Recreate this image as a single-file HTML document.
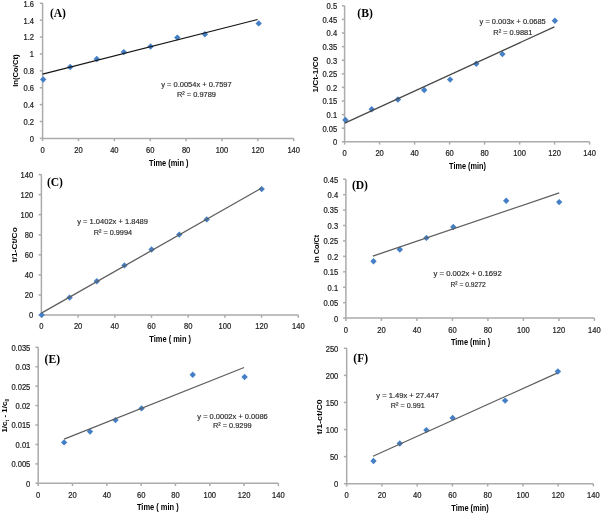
<!DOCTYPE html><html><head><meta charset="utf-8"><style>html,body{margin:0;padding:0;background:#fff;}svg{display:block;}</style></head><body>
<svg width="602" height="513" viewBox="0 0 602 513">
<defs><filter id="bl" x="0" y="0" width="100%" height="100%" filterUnits="userSpaceOnUse"><feGaussianBlur stdDeviation="0.28"/></filter></defs><rect width="602" height="513" fill="#fff"/><g filter="url(#bl)"><rect width="602" height="513" fill="#fff"/>
<g font-family='"Liberation Sans", sans-serif'><path d="M42.60,3.30 V138.40 H293.70" fill="none" stroke="#ababab" stroke-width="1.5"/><line x1="39.80" y1="138.40" x2="42.60" y2="138.40" stroke="#ababab" stroke-width="1.5"/><text transform="translate(34.00,141.80) scale(0.9,1)" text-anchor="end" font-size="8.4" fill="#1e1e1e" stroke="#1e1e1e" stroke-width="0.22">0</text><line x1="39.80" y1="121.51" x2="42.60" y2="121.51" stroke="#ababab" stroke-width="1.5"/><text transform="translate(34.00,124.91) scale(0.9,1)" text-anchor="end" font-size="8.4" fill="#1e1e1e" stroke="#1e1e1e" stroke-width="0.22">0.2</text><line x1="39.80" y1="104.62" x2="42.60" y2="104.62" stroke="#ababab" stroke-width="1.5"/><text transform="translate(34.00,108.03) scale(0.9,1)" text-anchor="end" font-size="8.4" fill="#1e1e1e" stroke="#1e1e1e" stroke-width="0.22">0.4</text><line x1="39.80" y1="87.74" x2="42.60" y2="87.74" stroke="#ababab" stroke-width="1.5"/><text transform="translate(34.00,91.14) scale(0.9,1)" text-anchor="end" font-size="8.4" fill="#1e1e1e" stroke="#1e1e1e" stroke-width="0.22">0.6</text><line x1="39.80" y1="70.85" x2="42.60" y2="70.85" stroke="#ababab" stroke-width="1.5"/><text transform="translate(34.00,74.25) scale(0.9,1)" text-anchor="end" font-size="8.4" fill="#1e1e1e" stroke="#1e1e1e" stroke-width="0.22">0.8</text><line x1="39.80" y1="53.96" x2="42.60" y2="53.96" stroke="#ababab" stroke-width="1.5"/><text transform="translate(34.00,57.36) scale(0.9,1)" text-anchor="end" font-size="8.4" fill="#1e1e1e" stroke="#1e1e1e" stroke-width="0.22">1</text><line x1="39.80" y1="37.08" x2="42.60" y2="37.08" stroke="#ababab" stroke-width="1.5"/><text transform="translate(34.00,40.48) scale(0.9,1)" text-anchor="end" font-size="8.4" fill="#1e1e1e" stroke="#1e1e1e" stroke-width="0.22">1.2</text><line x1="39.80" y1="20.19" x2="42.60" y2="20.19" stroke="#ababab" stroke-width="1.5"/><text transform="translate(34.00,23.59) scale(0.9,1)" text-anchor="end" font-size="8.4" fill="#1e1e1e" stroke="#1e1e1e" stroke-width="0.22">1.4</text><line x1="39.80" y1="3.30" x2="42.60" y2="3.30" stroke="#ababab" stroke-width="1.5"/><text transform="translate(34.00,6.70) scale(0.9,1)" text-anchor="end" font-size="8.4" fill="#1e1e1e" stroke="#1e1e1e" stroke-width="0.22">1.6</text><line x1="42.60" y1="138.40" x2="42.60" y2="141.20" stroke="#ababab" stroke-width="1.5"/><text transform="translate(42.60,153.20) scale(0.9,1)" text-anchor="middle" font-size="8.4" fill="#1e1e1e" stroke="#1e1e1e" stroke-width="0.22">0</text><line x1="78.47" y1="138.40" x2="78.47" y2="141.20" stroke="#ababab" stroke-width="1.5"/><text transform="translate(78.47,153.20) scale(0.9,1)" text-anchor="middle" font-size="8.4" fill="#1e1e1e" stroke="#1e1e1e" stroke-width="0.22">20</text><line x1="114.34" y1="138.40" x2="114.34" y2="141.20" stroke="#ababab" stroke-width="1.5"/><text transform="translate(114.34,153.20) scale(0.9,1)" text-anchor="middle" font-size="8.4" fill="#1e1e1e" stroke="#1e1e1e" stroke-width="0.22">40</text><line x1="150.21" y1="138.40" x2="150.21" y2="141.20" stroke="#ababab" stroke-width="1.5"/><text transform="translate(150.21,153.20) scale(0.9,1)" text-anchor="middle" font-size="8.4" fill="#1e1e1e" stroke="#1e1e1e" stroke-width="0.22">60</text><line x1="186.09" y1="138.40" x2="186.09" y2="141.20" stroke="#ababab" stroke-width="1.5"/><text transform="translate(186.09,153.20) scale(0.9,1)" text-anchor="middle" font-size="8.4" fill="#1e1e1e" stroke="#1e1e1e" stroke-width="0.22">80</text><line x1="221.96" y1="138.40" x2="221.96" y2="141.20" stroke="#ababab" stroke-width="1.5"/><text transform="translate(221.96,153.20) scale(0.9,1)" text-anchor="middle" font-size="8.4" fill="#1e1e1e" stroke="#1e1e1e" stroke-width="0.22">100</text><line x1="257.83" y1="138.40" x2="257.83" y2="141.20" stroke="#ababab" stroke-width="1.5"/><text transform="translate(257.83,153.20) scale(0.9,1)" text-anchor="middle" font-size="8.4" fill="#1e1e1e" stroke="#1e1e1e" stroke-width="0.22">120</text><line x1="293.70" y1="138.40" x2="293.70" y2="141.20" stroke="#ababab" stroke-width="1.5"/><text transform="translate(293.70,153.20) scale(0.9,1)" text-anchor="middle" font-size="8.4" fill="#1e1e1e" stroke="#1e1e1e" stroke-width="0.22">140</text><path d="M43.20,76.30 L46.40,79.50 L43.20,82.70 L40.00,79.50Z" fill="#4580c6"/><path d="M70.20,63.80 L73.40,67.00 L70.20,70.20 L67.00,67.00Z" fill="#4580c6"/><path d="M96.80,55.80 L100.00,59.00 L96.80,62.20 L93.60,59.00Z" fill="#4580c6"/><path d="M123.80,48.90 L127.00,52.10 L123.80,55.30 L120.60,52.10Z" fill="#4580c6"/><path d="M150.60,43.30 L153.80,46.50 L150.60,49.70 L147.40,46.50Z" fill="#4580c6"/><path d="M177.30,34.40 L180.50,37.60 L177.30,40.80 L174.10,37.60Z" fill="#4580c6"/><path d="M204.90,31.00 L208.10,34.20 L204.90,37.40 L201.70,34.20Z" fill="#4580c6"/><path d="M258.70,20.20 L261.90,23.40 L258.70,26.60 L255.50,23.40Z" fill="#4580c6"/><line x1="42.60" y1="74.10" x2="257.60" y2="19.50" stroke="#151515" stroke-width="1.1"/><text x="161.20" y="87.00" font-size="8" fill="#2a2a2a" stroke="#2a2a2a" stroke-width="0.18" textLength="70.50" lengthAdjust="spacingAndGlyphs">y = 0.0054x + 0.7597</text><text x="176.90" y="97.00" font-size="8" fill="#2a2a2a" stroke="#2a2a2a" stroke-width="0.18" textLength="39.10" lengthAdjust="spacingAndGlyphs">R² = 0.9789</text><text x="49.90" y="16.60" font-family='"Liberation Serif", serif' font-weight="bold" font-size="11.6" fill="#000">(A)</text><text transform="translate(15.60,70.60) rotate(-90)" x="-16.25" y="2.8" font-size="8" font-weight="bold" fill="#000" textLength="32.50" lengthAdjust="spacingAndGlyphs">ln(Co/Ct)</text><text x="149.00" y="166.00" font-size="8.3" font-weight="bold" fill="#000" textLength="39.50" lengthAdjust="spacingAndGlyphs">Time (min )</text></g>
<g font-family='"Liberation Sans", sans-serif'><path d="M344.60,5.85 V141.80 H589.60" fill="none" stroke="#ababab" stroke-width="1.5"/><line x1="341.80" y1="141.80" x2="344.60" y2="141.80" stroke="#ababab" stroke-width="1.5"/><text transform="translate(337.10,145.20) scale(0.9,1)" text-anchor="end" font-size="8.4" fill="#1e1e1e" stroke="#1e1e1e" stroke-width="0.22">0</text><line x1="341.80" y1="128.21" x2="344.60" y2="128.21" stroke="#ababab" stroke-width="1.5"/><text transform="translate(337.10,131.61) scale(0.9,1)" text-anchor="end" font-size="8.4" fill="#1e1e1e" stroke="#1e1e1e" stroke-width="0.22">0.05</text><line x1="341.80" y1="114.61" x2="344.60" y2="114.61" stroke="#ababab" stroke-width="1.5"/><text transform="translate(337.10,118.01) scale(0.9,1)" text-anchor="end" font-size="8.4" fill="#1e1e1e" stroke="#1e1e1e" stroke-width="0.22">0.1</text><line x1="341.80" y1="101.02" x2="344.60" y2="101.02" stroke="#ababab" stroke-width="1.5"/><text transform="translate(337.10,104.42) scale(0.9,1)" text-anchor="end" font-size="8.4" fill="#1e1e1e" stroke="#1e1e1e" stroke-width="0.22">0.15</text><line x1="341.80" y1="87.42" x2="344.60" y2="87.42" stroke="#ababab" stroke-width="1.5"/><text transform="translate(337.10,90.82) scale(0.9,1)" text-anchor="end" font-size="8.4" fill="#1e1e1e" stroke="#1e1e1e" stroke-width="0.22">0.2</text><line x1="341.80" y1="73.83" x2="344.60" y2="73.83" stroke="#ababab" stroke-width="1.5"/><text transform="translate(337.10,77.23) scale(0.9,1)" text-anchor="end" font-size="8.4" fill="#1e1e1e" stroke="#1e1e1e" stroke-width="0.22">0.25</text><line x1="341.80" y1="60.23" x2="344.60" y2="60.23" stroke="#ababab" stroke-width="1.5"/><text transform="translate(337.10,63.63) scale(0.9,1)" text-anchor="end" font-size="8.4" fill="#1e1e1e" stroke="#1e1e1e" stroke-width="0.22">0.3</text><line x1="341.80" y1="46.63" x2="344.60" y2="46.63" stroke="#ababab" stroke-width="1.5"/><text transform="translate(337.10,50.03) scale(0.9,1)" text-anchor="end" font-size="8.4" fill="#1e1e1e" stroke="#1e1e1e" stroke-width="0.22">0.35</text><line x1="341.80" y1="33.04" x2="344.60" y2="33.04" stroke="#ababab" stroke-width="1.5"/><text transform="translate(337.10,36.44) scale(0.9,1)" text-anchor="end" font-size="8.4" fill="#1e1e1e" stroke="#1e1e1e" stroke-width="0.22">0.4</text><line x1="341.80" y1="19.44" x2="344.60" y2="19.44" stroke="#ababab" stroke-width="1.5"/><text transform="translate(337.10,22.84) scale(0.9,1)" text-anchor="end" font-size="8.4" fill="#1e1e1e" stroke="#1e1e1e" stroke-width="0.22">0.45</text><line x1="341.80" y1="5.85" x2="344.60" y2="5.85" stroke="#ababab" stroke-width="1.5"/><text transform="translate(337.10,9.25) scale(0.9,1)" text-anchor="end" font-size="8.4" fill="#1e1e1e" stroke="#1e1e1e" stroke-width="0.22">0.5</text><line x1="344.60" y1="141.80" x2="344.60" y2="144.60" stroke="#ababab" stroke-width="1.5"/><text transform="translate(344.60,156.30) scale(0.9,1)" text-anchor="middle" font-size="8.4" fill="#1e1e1e" stroke="#1e1e1e" stroke-width="0.22">0</text><line x1="379.60" y1="141.80" x2="379.60" y2="144.60" stroke="#ababab" stroke-width="1.5"/><text transform="translate(379.60,156.30) scale(0.9,1)" text-anchor="middle" font-size="8.4" fill="#1e1e1e" stroke="#1e1e1e" stroke-width="0.22">20</text><line x1="414.60" y1="141.80" x2="414.60" y2="144.60" stroke="#ababab" stroke-width="1.5"/><text transform="translate(414.60,156.30) scale(0.9,1)" text-anchor="middle" font-size="8.4" fill="#1e1e1e" stroke="#1e1e1e" stroke-width="0.22">40</text><line x1="449.60" y1="141.80" x2="449.60" y2="144.60" stroke="#ababab" stroke-width="1.5"/><text transform="translate(449.60,156.30) scale(0.9,1)" text-anchor="middle" font-size="8.4" fill="#1e1e1e" stroke="#1e1e1e" stroke-width="0.22">60</text><line x1="484.60" y1="141.80" x2="484.60" y2="144.60" stroke="#ababab" stroke-width="1.5"/><text transform="translate(484.60,156.30) scale(0.9,1)" text-anchor="middle" font-size="8.4" fill="#1e1e1e" stroke="#1e1e1e" stroke-width="0.22">80</text><line x1="519.60" y1="141.80" x2="519.60" y2="144.60" stroke="#ababab" stroke-width="1.5"/><text transform="translate(519.60,156.30) scale(0.9,1)" text-anchor="middle" font-size="8.4" fill="#1e1e1e" stroke="#1e1e1e" stroke-width="0.22">100</text><line x1="554.60" y1="141.80" x2="554.60" y2="144.60" stroke="#ababab" stroke-width="1.5"/><text transform="translate(554.60,156.30) scale(0.9,1)" text-anchor="middle" font-size="8.4" fill="#1e1e1e" stroke="#1e1e1e" stroke-width="0.22">120</text><line x1="589.60" y1="141.80" x2="589.60" y2="144.60" stroke="#ababab" stroke-width="1.5"/><text transform="translate(589.60,156.30) scale(0.9,1)" text-anchor="middle" font-size="8.4" fill="#1e1e1e" stroke="#1e1e1e" stroke-width="0.22">140</text><path d="M345.40,116.80 L348.60,120.00 L345.40,123.20 L342.20,120.00Z" fill="#4580c6"/><path d="M371.70,106.00 L374.90,109.20 L371.70,112.40 L368.50,109.20Z" fill="#4580c6"/><path d="M397.90,96.30 L401.10,99.50 L397.90,102.70 L394.70,99.50Z" fill="#4580c6"/><path d="M424.20,86.80 L427.40,90.00 L424.20,93.20 L421.00,90.00Z" fill="#4580c6"/><path d="M450.10,76.40 L453.30,79.60 L450.10,82.80 L446.90,79.60Z" fill="#4580c6"/><path d="M476.30,60.60 L479.50,63.80 L476.30,67.00 L473.10,63.80Z" fill="#4580c6"/><path d="M502.40,50.90 L505.60,54.10 L502.40,57.30 L499.20,54.10Z" fill="#4580c6"/><path d="M554.90,17.50 L558.10,20.70 L554.90,23.90 L551.70,20.70Z" fill="#4580c6"/><line x1="344.75" y1="123.10" x2="554.40" y2="26.90" stroke="#484848" stroke-width="1.25"/><text x="479.60" y="24.30" font-size="8" fill="#2a2a2a" stroke="#2a2a2a" stroke-width="0.18" textLength="66.20" lengthAdjust="spacingAndGlyphs">y = 0.003x + 0.0685</text><text x="493.30" y="34.55" font-size="8" fill="#2a2a2a" stroke="#2a2a2a" stroke-width="0.18" textLength="39.00" lengthAdjust="spacingAndGlyphs">R² = 0.9881</text><text x="357.30" y="16.70" font-family='"Liberation Serif", serif' font-weight="bold" font-size="11.6" fill="#000">(B)</text><text transform="translate(315.60,74.60) rotate(-90)" x="-18.00" y="2.8" font-size="8" font-weight="bold" fill="#000" textLength="36.00" lengthAdjust="spacingAndGlyphs">1/Ct-1/C0</text><text x="449.10" y="168.80" font-size="8.3" font-weight="bold" fill="#000" textLength="36.80" lengthAdjust="spacingAndGlyphs">Time (min)</text></g>
<g font-family='"Liberation Sans", sans-serif'><path d="M41.40,174.60 V315.00 H298.30" fill="none" stroke="#ababab" stroke-width="1.5"/><line x1="38.60" y1="315.00" x2="41.40" y2="315.00" stroke="#ababab" stroke-width="1.5"/><text transform="translate(33.20,318.40) scale(0.9,1)" text-anchor="end" font-size="8.4" fill="#1e1e1e" stroke="#1e1e1e" stroke-width="0.22">0</text><line x1="38.60" y1="294.94" x2="41.40" y2="294.94" stroke="#ababab" stroke-width="1.5"/><text transform="translate(33.20,298.34) scale(0.9,1)" text-anchor="end" font-size="8.4" fill="#1e1e1e" stroke="#1e1e1e" stroke-width="0.22">20</text><line x1="38.60" y1="274.89" x2="41.40" y2="274.89" stroke="#ababab" stroke-width="1.5"/><text transform="translate(33.20,278.29) scale(0.9,1)" text-anchor="end" font-size="8.4" fill="#1e1e1e" stroke="#1e1e1e" stroke-width="0.22">40</text><line x1="38.60" y1="254.83" x2="41.40" y2="254.83" stroke="#ababab" stroke-width="1.5"/><text transform="translate(33.20,258.23) scale(0.9,1)" text-anchor="end" font-size="8.4" fill="#1e1e1e" stroke="#1e1e1e" stroke-width="0.22">60</text><line x1="38.60" y1="234.77" x2="41.40" y2="234.77" stroke="#ababab" stroke-width="1.5"/><text transform="translate(33.20,238.17) scale(0.9,1)" text-anchor="end" font-size="8.4" fill="#1e1e1e" stroke="#1e1e1e" stroke-width="0.22">80</text><line x1="38.60" y1="214.71" x2="41.40" y2="214.71" stroke="#ababab" stroke-width="1.5"/><text transform="translate(33.20,218.11) scale(0.9,1)" text-anchor="end" font-size="8.4" fill="#1e1e1e" stroke="#1e1e1e" stroke-width="0.22">100</text><line x1="38.60" y1="194.66" x2="41.40" y2="194.66" stroke="#ababab" stroke-width="1.5"/><text transform="translate(33.20,198.06) scale(0.9,1)" text-anchor="end" font-size="8.4" fill="#1e1e1e" stroke="#1e1e1e" stroke-width="0.22">120</text><line x1="38.60" y1="174.60" x2="41.40" y2="174.60" stroke="#ababab" stroke-width="1.5"/><text transform="translate(33.20,178.00) scale(0.9,1)" text-anchor="end" font-size="8.4" fill="#1e1e1e" stroke="#1e1e1e" stroke-width="0.22">140</text><line x1="41.40" y1="315.00" x2="41.40" y2="317.80" stroke="#ababab" stroke-width="1.5"/><text transform="translate(41.40,329.00) scale(0.9,1)" text-anchor="middle" font-size="8.4" fill="#1e1e1e" stroke="#1e1e1e" stroke-width="0.22">0</text><line x1="78.10" y1="315.00" x2="78.10" y2="317.80" stroke="#ababab" stroke-width="1.5"/><text transform="translate(78.10,329.00) scale(0.9,1)" text-anchor="middle" font-size="8.4" fill="#1e1e1e" stroke="#1e1e1e" stroke-width="0.22">20</text><line x1="114.80" y1="315.00" x2="114.80" y2="317.80" stroke="#ababab" stroke-width="1.5"/><text transform="translate(114.80,329.00) scale(0.9,1)" text-anchor="middle" font-size="8.4" fill="#1e1e1e" stroke="#1e1e1e" stroke-width="0.22">40</text><line x1="151.50" y1="315.00" x2="151.50" y2="317.80" stroke="#ababab" stroke-width="1.5"/><text transform="translate(151.50,329.00) scale(0.9,1)" text-anchor="middle" font-size="8.4" fill="#1e1e1e" stroke="#1e1e1e" stroke-width="0.22">60</text><line x1="188.20" y1="315.00" x2="188.20" y2="317.80" stroke="#ababab" stroke-width="1.5"/><text transform="translate(188.20,329.00) scale(0.9,1)" text-anchor="middle" font-size="8.4" fill="#1e1e1e" stroke="#1e1e1e" stroke-width="0.22">80</text><line x1="224.90" y1="315.00" x2="224.90" y2="317.80" stroke="#ababab" stroke-width="1.5"/><text transform="translate(224.90,329.00) scale(0.9,1)" text-anchor="middle" font-size="8.4" fill="#1e1e1e" stroke="#1e1e1e" stroke-width="0.22">100</text><line x1="261.60" y1="315.00" x2="261.60" y2="317.80" stroke="#ababab" stroke-width="1.5"/><text transform="translate(261.60,329.00) scale(0.9,1)" text-anchor="middle" font-size="8.4" fill="#1e1e1e" stroke="#1e1e1e" stroke-width="0.22">120</text><line x1="298.30" y1="315.00" x2="298.30" y2="317.80" stroke="#ababab" stroke-width="1.5"/><text transform="translate(298.30,329.00) scale(0.9,1)" text-anchor="middle" font-size="8.4" fill="#1e1e1e" stroke="#1e1e1e" stroke-width="0.22">140</text><path d="M41.70,311.70 L44.90,314.90 L41.70,318.10 L38.50,314.90Z" fill="#4580c6"/><path d="M69.60,294.40 L72.80,297.60 L69.60,300.80 L66.40,297.60Z" fill="#4580c6"/><path d="M96.80,278.00 L100.00,281.20 L96.80,284.40 L93.60,281.20Z" fill="#4580c6"/><path d="M124.40,262.20 L127.60,265.40 L124.40,268.60 L121.20,265.40Z" fill="#4580c6"/><path d="M151.60,246.30 L154.80,249.50 L151.60,252.70 L148.40,249.50Z" fill="#4580c6"/><path d="M179.30,231.40 L182.50,234.60 L179.30,237.80 L176.10,234.60Z" fill="#4580c6"/><path d="M206.70,216.20 L209.90,219.40 L206.70,222.60 L203.50,219.40Z" fill="#4580c6"/><path d="M261.70,185.90 L264.90,189.10 L261.70,192.30 L258.50,189.10Z" fill="#4580c6"/><line x1="41.40" y1="313.10" x2="261.70" y2="188.00" stroke="#5e5e5e" stroke-width="1.25"/><text x="77.20" y="224.10" font-size="8" fill="#2a2a2a" stroke="#2a2a2a" stroke-width="0.18" textLength="70.80" lengthAdjust="spacingAndGlyphs">y = 1.0402x + 1.8489</text><text x="93.70" y="234.60" font-size="8" fill="#2a2a2a" stroke="#2a2a2a" stroke-width="0.18" textLength="38.30" lengthAdjust="spacingAndGlyphs">R² = 0.9994</text><text x="46.90" y="186.40" font-family='"Liberation Serif", serif' font-weight="bold" font-size="11.6" fill="#000">(C)</text><text transform="translate(14.00,244.70) rotate(-90)" x="-17.50" y="2.8" font-size="8" font-weight="bold" fill="#000" textLength="35.00" lengthAdjust="spacingAndGlyphs">t/1-Ct/Co</text><text x="149.30" y="341.70" font-size="8.3" font-weight="bold" fill="#000" textLength="41.70" lengthAdjust="spacingAndGlyphs">Time ( min )</text></g>
<g font-family='"Liberation Sans", sans-serif'><path d="M345.90,179.20 V318.10 H594.40" fill="none" stroke="#ababab" stroke-width="1.5"/><line x1="343.10" y1="318.10" x2="345.90" y2="318.10" stroke="#ababab" stroke-width="1.5"/><text transform="translate(338.10,321.50) scale(0.9,1)" text-anchor="end" font-size="8.4" fill="#1e1e1e" stroke="#1e1e1e" stroke-width="0.22">0</text><line x1="343.10" y1="302.67" x2="345.90" y2="302.67" stroke="#ababab" stroke-width="1.5"/><text transform="translate(338.10,306.07) scale(0.9,1)" text-anchor="end" font-size="8.4" fill="#1e1e1e" stroke="#1e1e1e" stroke-width="0.22">0.05</text><line x1="343.10" y1="287.23" x2="345.90" y2="287.23" stroke="#ababab" stroke-width="1.5"/><text transform="translate(338.10,290.63) scale(0.9,1)" text-anchor="end" font-size="8.4" fill="#1e1e1e" stroke="#1e1e1e" stroke-width="0.22">0.1</text><line x1="343.10" y1="271.80" x2="345.90" y2="271.80" stroke="#ababab" stroke-width="1.5"/><text transform="translate(338.10,275.20) scale(0.9,1)" text-anchor="end" font-size="8.4" fill="#1e1e1e" stroke="#1e1e1e" stroke-width="0.22">0.15</text><line x1="343.10" y1="256.37" x2="345.90" y2="256.37" stroke="#ababab" stroke-width="1.5"/><text transform="translate(338.10,259.77) scale(0.9,1)" text-anchor="end" font-size="8.4" fill="#1e1e1e" stroke="#1e1e1e" stroke-width="0.22">0.2</text><line x1="343.10" y1="240.93" x2="345.90" y2="240.93" stroke="#ababab" stroke-width="1.5"/><text transform="translate(338.10,244.33) scale(0.9,1)" text-anchor="end" font-size="8.4" fill="#1e1e1e" stroke="#1e1e1e" stroke-width="0.22">0.25</text><line x1="343.10" y1="225.50" x2="345.90" y2="225.50" stroke="#ababab" stroke-width="1.5"/><text transform="translate(338.10,228.90) scale(0.9,1)" text-anchor="end" font-size="8.4" fill="#1e1e1e" stroke="#1e1e1e" stroke-width="0.22">0.3</text><line x1="343.10" y1="210.07" x2="345.90" y2="210.07" stroke="#ababab" stroke-width="1.5"/><text transform="translate(338.10,213.47) scale(0.9,1)" text-anchor="end" font-size="8.4" fill="#1e1e1e" stroke="#1e1e1e" stroke-width="0.22">0.35</text><line x1="343.10" y1="194.63" x2="345.90" y2="194.63" stroke="#ababab" stroke-width="1.5"/><text transform="translate(338.10,198.03) scale(0.9,1)" text-anchor="end" font-size="8.4" fill="#1e1e1e" stroke="#1e1e1e" stroke-width="0.22">0.4</text><line x1="343.10" y1="179.20" x2="345.90" y2="179.20" stroke="#ababab" stroke-width="1.5"/><text transform="translate(338.10,182.60) scale(0.9,1)" text-anchor="end" font-size="8.4" fill="#1e1e1e" stroke="#1e1e1e" stroke-width="0.22">0.45</text><line x1="345.90" y1="318.10" x2="345.90" y2="320.90" stroke="#ababab" stroke-width="1.5"/><text transform="translate(345.90,332.60) scale(0.9,1)" text-anchor="middle" font-size="8.4" fill="#1e1e1e" stroke="#1e1e1e" stroke-width="0.22">0</text><line x1="381.40" y1="318.10" x2="381.40" y2="320.90" stroke="#ababab" stroke-width="1.5"/><text transform="translate(381.40,332.60) scale(0.9,1)" text-anchor="middle" font-size="8.4" fill="#1e1e1e" stroke="#1e1e1e" stroke-width="0.22">20</text><line x1="416.90" y1="318.10" x2="416.90" y2="320.90" stroke="#ababab" stroke-width="1.5"/><text transform="translate(416.90,332.60) scale(0.9,1)" text-anchor="middle" font-size="8.4" fill="#1e1e1e" stroke="#1e1e1e" stroke-width="0.22">40</text><line x1="452.40" y1="318.10" x2="452.40" y2="320.90" stroke="#ababab" stroke-width="1.5"/><text transform="translate(452.40,332.60) scale(0.9,1)" text-anchor="middle" font-size="8.4" fill="#1e1e1e" stroke="#1e1e1e" stroke-width="0.22">60</text><line x1="487.90" y1="318.10" x2="487.90" y2="320.90" stroke="#ababab" stroke-width="1.5"/><text transform="translate(487.90,332.60) scale(0.9,1)" text-anchor="middle" font-size="8.4" fill="#1e1e1e" stroke="#1e1e1e" stroke-width="0.22">80</text><line x1="523.40" y1="318.10" x2="523.40" y2="320.90" stroke="#ababab" stroke-width="1.5"/><text transform="translate(523.40,332.60) scale(0.9,1)" text-anchor="middle" font-size="8.4" fill="#1e1e1e" stroke="#1e1e1e" stroke-width="0.22">100</text><line x1="558.90" y1="318.10" x2="558.90" y2="320.90" stroke="#ababab" stroke-width="1.5"/><text transform="translate(558.90,332.60) scale(0.9,1)" text-anchor="middle" font-size="8.4" fill="#1e1e1e" stroke="#1e1e1e" stroke-width="0.22">120</text><line x1="594.40" y1="318.10" x2="594.40" y2="320.90" stroke="#ababab" stroke-width="1.5"/><text transform="translate(594.40,332.60) scale(0.9,1)" text-anchor="middle" font-size="8.4" fill="#1e1e1e" stroke="#1e1e1e" stroke-width="0.22">140</text><path d="M373.50,258.00 L376.70,261.20 L373.50,264.40 L370.30,261.20Z" fill="#4580c6"/><path d="M399.80,246.30 L403.00,249.50 L399.80,252.70 L396.60,249.50Z" fill="#4580c6"/><path d="M426.40,234.70 L429.60,237.90 L426.40,241.10 L423.20,237.90Z" fill="#4580c6"/><path d="M453.30,223.80 L456.50,227.00 L453.30,230.20 L450.10,227.00Z" fill="#4580c6"/><path d="M506.20,197.50 L509.40,200.70 L506.20,203.90 L503.00,200.70Z" fill="#4580c6"/><path d="M559.20,198.90 L562.40,202.10 L559.20,205.30 L556.00,202.10Z" fill="#4580c6"/><line x1="372.80" y1="256.20" x2="559.20" y2="192.90" stroke="#5e5e5e" stroke-width="1.25"/><text x="433.50" y="276.20" font-size="8" fill="#2a2a2a" stroke="#2a2a2a" stroke-width="0.18" textLength="68.20" lengthAdjust="spacingAndGlyphs">y = 0.002x + 0.1692</text><text x="450.50" y="286.70" font-size="8" fill="#2a2a2a" stroke="#2a2a2a" stroke-width="0.18" textLength="35.10" lengthAdjust="spacingAndGlyphs">R² = 0.9272</text><text x="351.90" y="188.50" font-family='"Liberation Serif", serif' font-weight="bold" font-size="11.6" fill="#000">(D)</text><text transform="translate(316.40,248.70) rotate(-90)" x="-14.00" y="2.8" font-size="8" font-weight="bold" fill="#000" textLength="28.00" lengthAdjust="spacingAndGlyphs">ln Co/Ct</text><text x="450.90" y="344.50" font-size="8.3" font-weight="bold" fill="#000" textLength="39.30" lengthAdjust="spacingAndGlyphs">Time (min )</text></g>
<g font-family='"Liberation Sans", sans-serif'><path d="M38.20,347.30 V483.30 H278.40" fill="none" stroke="#ababab" stroke-width="1.5"/><line x1="35.40" y1="483.30" x2="38.20" y2="483.30" stroke="#ababab" stroke-width="1.5"/><text transform="translate(30.30,486.70) scale(0.9,1)" text-anchor="end" font-size="8.4" fill="#1e1e1e" stroke="#1e1e1e" stroke-width="0.22">0</text><line x1="35.40" y1="463.87" x2="38.20" y2="463.87" stroke="#ababab" stroke-width="1.5"/><text transform="translate(30.30,467.27) scale(0.9,1)" text-anchor="end" font-size="8.4" fill="#1e1e1e" stroke="#1e1e1e" stroke-width="0.22">0.005</text><line x1="35.40" y1="444.44" x2="38.20" y2="444.44" stroke="#ababab" stroke-width="1.5"/><text transform="translate(30.30,447.84) scale(0.9,1)" text-anchor="end" font-size="8.4" fill="#1e1e1e" stroke="#1e1e1e" stroke-width="0.22">0.01</text><line x1="35.40" y1="425.01" x2="38.20" y2="425.01" stroke="#ababab" stroke-width="1.5"/><text transform="translate(30.30,428.41) scale(0.9,1)" text-anchor="end" font-size="8.4" fill="#1e1e1e" stroke="#1e1e1e" stroke-width="0.22">0.015</text><line x1="35.40" y1="405.59" x2="38.20" y2="405.59" stroke="#ababab" stroke-width="1.5"/><text transform="translate(30.30,408.99) scale(0.9,1)" text-anchor="end" font-size="8.4" fill="#1e1e1e" stroke="#1e1e1e" stroke-width="0.22">0.02</text><line x1="35.40" y1="386.16" x2="38.20" y2="386.16" stroke="#ababab" stroke-width="1.5"/><text transform="translate(30.30,389.56) scale(0.9,1)" text-anchor="end" font-size="8.4" fill="#1e1e1e" stroke="#1e1e1e" stroke-width="0.22">0.025</text><line x1="35.40" y1="366.73" x2="38.20" y2="366.73" stroke="#ababab" stroke-width="1.5"/><text transform="translate(30.30,370.13) scale(0.9,1)" text-anchor="end" font-size="8.4" fill="#1e1e1e" stroke="#1e1e1e" stroke-width="0.22">0.03</text><line x1="35.40" y1="347.30" x2="38.20" y2="347.30" stroke="#ababab" stroke-width="1.5"/><text transform="translate(30.30,350.70) scale(0.9,1)" text-anchor="end" font-size="8.4" fill="#1e1e1e" stroke="#1e1e1e" stroke-width="0.22">0.035</text><line x1="38.20" y1="483.30" x2="38.20" y2="486.10" stroke="#ababab" stroke-width="1.5"/><text transform="translate(38.20,497.80) scale(0.9,1)" text-anchor="middle" font-size="8.4" fill="#1e1e1e" stroke="#1e1e1e" stroke-width="0.22">0</text><line x1="72.51" y1="483.30" x2="72.51" y2="486.10" stroke="#ababab" stroke-width="1.5"/><text transform="translate(72.51,497.80) scale(0.9,1)" text-anchor="middle" font-size="8.4" fill="#1e1e1e" stroke="#1e1e1e" stroke-width="0.22">20</text><line x1="106.83" y1="483.30" x2="106.83" y2="486.10" stroke="#ababab" stroke-width="1.5"/><text transform="translate(106.83,497.80) scale(0.9,1)" text-anchor="middle" font-size="8.4" fill="#1e1e1e" stroke="#1e1e1e" stroke-width="0.22">40</text><line x1="141.14" y1="483.30" x2="141.14" y2="486.10" stroke="#ababab" stroke-width="1.5"/><text transform="translate(141.14,497.80) scale(0.9,1)" text-anchor="middle" font-size="8.4" fill="#1e1e1e" stroke="#1e1e1e" stroke-width="0.22">60</text><line x1="175.46" y1="483.30" x2="175.46" y2="486.10" stroke="#ababab" stroke-width="1.5"/><text transform="translate(175.46,497.80) scale(0.9,1)" text-anchor="middle" font-size="8.4" fill="#1e1e1e" stroke="#1e1e1e" stroke-width="0.22">80</text><line x1="209.77" y1="483.30" x2="209.77" y2="486.10" stroke="#ababab" stroke-width="1.5"/><text transform="translate(209.77,497.80) scale(0.9,1)" text-anchor="middle" font-size="8.4" fill="#1e1e1e" stroke="#1e1e1e" stroke-width="0.22">100</text><line x1="244.09" y1="483.30" x2="244.09" y2="486.10" stroke="#ababab" stroke-width="1.5"/><text transform="translate(244.09,497.80) scale(0.9,1)" text-anchor="middle" font-size="8.4" fill="#1e1e1e" stroke="#1e1e1e" stroke-width="0.22">120</text><line x1="278.40" y1="483.30" x2="278.40" y2="486.10" stroke="#ababab" stroke-width="1.5"/><text transform="translate(278.40,497.80) scale(0.9,1)" text-anchor="middle" font-size="8.4" fill="#1e1e1e" stroke="#1e1e1e" stroke-width="0.22">140</text><path d="M64.10,439.20 L67.30,442.40 L64.10,445.60 L60.90,442.40Z" fill="#4580c6"/><path d="M90.00,428.40 L93.20,431.60 L90.00,434.80 L86.80,431.60Z" fill="#4580c6"/><path d="M115.50,416.90 L118.70,420.10 L115.50,423.30 L112.30,420.10Z" fill="#4580c6"/><path d="M141.50,405.20 L144.70,408.40 L141.50,411.60 L138.30,408.40Z" fill="#4580c6"/><path d="M192.70,371.60 L195.90,374.80 L192.70,378.00 L189.50,374.80Z" fill="#4580c6"/><path d="M244.60,373.80 L247.80,377.00 L244.60,380.20 L241.40,377.00Z" fill="#4580c6"/><line x1="64.10" y1="439.10" x2="244.10" y2="367.50" stroke="#5e5e5e" stroke-width="1.25"/><text x="197.30" y="418.80" font-size="8" fill="#2a2a2a" stroke="#2a2a2a" stroke-width="0.18" textLength="70.50" lengthAdjust="spacingAndGlyphs">y = 0.0002x + 0.0086</text><text x="212.90" y="428.20" font-size="8" fill="#2a2a2a" stroke="#2a2a2a" stroke-width="0.18" textLength="38.70" lengthAdjust="spacingAndGlyphs">R² = 0.9299</text><text x="44.60" y="362.50" font-family='"Liberation Serif", serif' font-weight="bold" font-size="11.6" fill="#000">(E)</text><text transform="translate(4.20,415.70) rotate(-90)" x="0" y="2.8" text-anchor="middle" font-size="8" font-weight="bold" fill="#000">1/c<tspan font-size="5" dy="1.5">t</tspan><tspan dy="-1.5"> - 1/c</tspan><tspan font-size="5" dy="1.5">0</tspan></text><text x="136.90" y="509.90" font-size="8.3" font-weight="bold" fill="#000" textLength="41.80" lengthAdjust="spacingAndGlyphs">Time ( min )</text></g>
<g font-family='"Liberation Sans", sans-serif'><path d="M346.70,348.30 V483.70 H593.40" fill="none" stroke="#ababab" stroke-width="1.5"/><line x1="343.90" y1="483.70" x2="346.70" y2="483.70" stroke="#ababab" stroke-width="1.5"/><text transform="translate(338.30,487.10) scale(0.9,1)" text-anchor="end" font-size="8.4" fill="#1e1e1e" stroke="#1e1e1e" stroke-width="0.22">0</text><line x1="343.90" y1="456.62" x2="346.70" y2="456.62" stroke="#ababab" stroke-width="1.5"/><text transform="translate(338.30,460.02) scale(0.9,1)" text-anchor="end" font-size="8.4" fill="#1e1e1e" stroke="#1e1e1e" stroke-width="0.22">50</text><line x1="343.90" y1="429.54" x2="346.70" y2="429.54" stroke="#ababab" stroke-width="1.5"/><text transform="translate(338.30,432.94) scale(0.9,1)" text-anchor="end" font-size="8.4" fill="#1e1e1e" stroke="#1e1e1e" stroke-width="0.22">100</text><line x1="343.90" y1="402.46" x2="346.70" y2="402.46" stroke="#ababab" stroke-width="1.5"/><text transform="translate(338.30,405.86) scale(0.9,1)" text-anchor="end" font-size="8.4" fill="#1e1e1e" stroke="#1e1e1e" stroke-width="0.22">150</text><line x1="343.90" y1="375.38" x2="346.70" y2="375.38" stroke="#ababab" stroke-width="1.5"/><text transform="translate(338.30,378.78) scale(0.9,1)" text-anchor="end" font-size="8.4" fill="#1e1e1e" stroke="#1e1e1e" stroke-width="0.22">200</text><line x1="343.90" y1="348.30" x2="346.70" y2="348.30" stroke="#ababab" stroke-width="1.5"/><text transform="translate(338.30,351.70) scale(0.9,1)" text-anchor="end" font-size="8.4" fill="#1e1e1e" stroke="#1e1e1e" stroke-width="0.22">250</text><line x1="346.70" y1="483.70" x2="346.70" y2="486.50" stroke="#ababab" stroke-width="1.5"/><text transform="translate(346.70,498.30) scale(0.9,1)" text-anchor="middle" font-size="8.4" fill="#1e1e1e" stroke="#1e1e1e" stroke-width="0.22">0</text><line x1="381.94" y1="483.70" x2="381.94" y2="486.50" stroke="#ababab" stroke-width="1.5"/><text transform="translate(381.94,498.30) scale(0.9,1)" text-anchor="middle" font-size="8.4" fill="#1e1e1e" stroke="#1e1e1e" stroke-width="0.22">20</text><line x1="417.19" y1="483.70" x2="417.19" y2="486.50" stroke="#ababab" stroke-width="1.5"/><text transform="translate(417.19,498.30) scale(0.9,1)" text-anchor="middle" font-size="8.4" fill="#1e1e1e" stroke="#1e1e1e" stroke-width="0.22">40</text><line x1="452.43" y1="483.70" x2="452.43" y2="486.50" stroke="#ababab" stroke-width="1.5"/><text transform="translate(452.43,498.30) scale(0.9,1)" text-anchor="middle" font-size="8.4" fill="#1e1e1e" stroke="#1e1e1e" stroke-width="0.22">60</text><line x1="487.67" y1="483.70" x2="487.67" y2="486.50" stroke="#ababab" stroke-width="1.5"/><text transform="translate(487.67,498.30) scale(0.9,1)" text-anchor="middle" font-size="8.4" fill="#1e1e1e" stroke="#1e1e1e" stroke-width="0.22">80</text><line x1="522.91" y1="483.70" x2="522.91" y2="486.50" stroke="#ababab" stroke-width="1.5"/><text transform="translate(522.91,498.30) scale(0.9,1)" text-anchor="middle" font-size="8.4" fill="#1e1e1e" stroke="#1e1e1e" stroke-width="0.22">100</text><line x1="558.16" y1="483.70" x2="558.16" y2="486.50" stroke="#ababab" stroke-width="1.5"/><text transform="translate(558.16,498.30) scale(0.9,1)" text-anchor="middle" font-size="8.4" fill="#1e1e1e" stroke="#1e1e1e" stroke-width="0.22">120</text><line x1="593.40" y1="483.70" x2="593.40" y2="486.50" stroke="#ababab" stroke-width="1.5"/><text transform="translate(593.40,498.30) scale(0.9,1)" text-anchor="middle" font-size="8.4" fill="#1e1e1e" stroke="#1e1e1e" stroke-width="0.22">140</text><path d="M373.50,457.80 L376.70,461.00 L373.50,464.20 L370.30,461.00Z" fill="#4580c6"/><path d="M399.80,440.30 L403.00,443.50 L399.80,446.70 L396.60,443.50Z" fill="#4580c6"/><path d="M426.40,426.90 L429.60,430.10 L426.40,433.30 L423.20,430.10Z" fill="#4580c6"/><path d="M452.65,414.70 L455.85,417.90 L452.65,421.10 L449.45,417.90Z" fill="#4580c6"/><path d="M505.10,397.40 L508.30,400.60 L505.10,403.80 L501.90,400.60Z" fill="#4580c6"/><path d="M557.90,368.30 L561.10,371.50 L557.90,374.70 L554.70,371.50Z" fill="#4580c6"/><line x1="373.00" y1="456.20" x2="557.10" y2="373.10" stroke="#5e5e5e" stroke-width="1.25"/><text x="376.30" y="397.90" font-size="8" fill="#2a2a2a" stroke="#2a2a2a" stroke-width="0.18" textLength="62.60" lengthAdjust="spacingAndGlyphs">y = 1.49x + 27.447</text><text x="390.80" y="408.30" font-size="8" fill="#2a2a2a" stroke="#2a2a2a" stroke-width="0.18" textLength="33.90" lengthAdjust="spacingAndGlyphs">R² = 0.991</text><text x="353.30" y="362.20" font-family='"Liberation Serif", serif' font-weight="bold" font-size="11.6" fill="#000">(F)</text><text transform="translate(319.50,416.70) rotate(-90)" x="-17.50" y="2.8" font-size="8" font-weight="bold" fill="#000" textLength="35.00" lengthAdjust="spacingAndGlyphs">t/1-ct/C0</text><text x="451.30" y="510.90" font-size="8.3" font-weight="bold" fill="#000" textLength="37.50" lengthAdjust="spacingAndGlyphs">Time (min)</text></g>
</g></svg></body></html>
